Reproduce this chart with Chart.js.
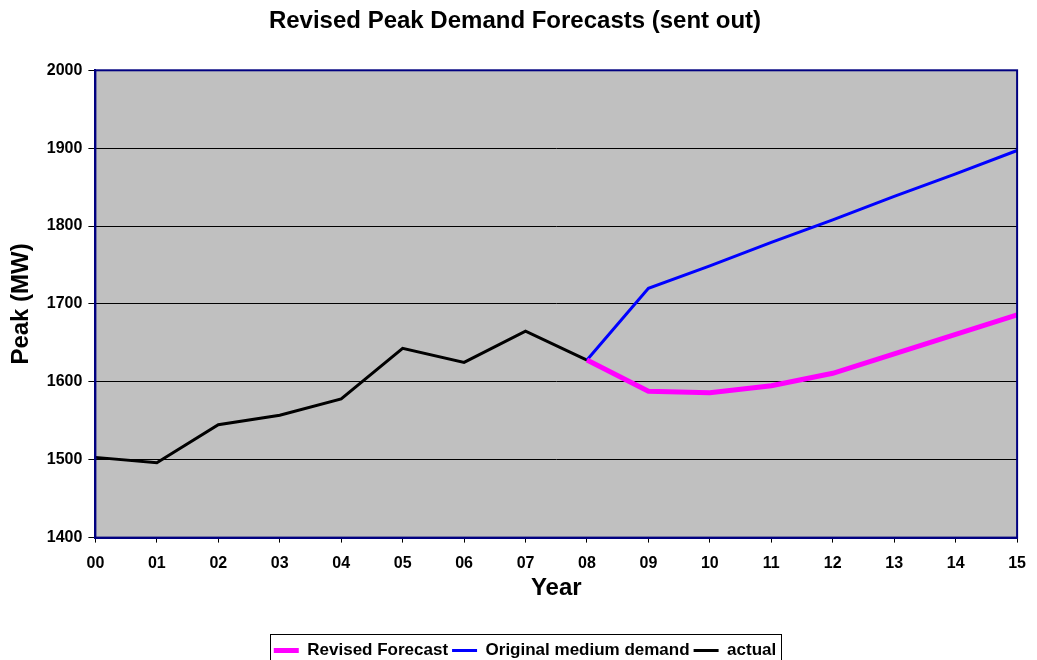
<!DOCTYPE html>
<html>
<head>
<meta charset="utf-8">
<script src="https://cdn.jsdelivr.net/npm/chart.js@4.4.1/dist/chart.umd.min.js"></script>
<style>
  body { margin: 0; background: #fff; }
  #chart { display: block; }
</style>
</head>
<body>
<canvas id="chart" width="1037" height="660"></canvas>
<script>
// Chart data
const years = ['00', '01', '02', '03', '04', '05', '06', '07', '08', '09', '10', '11', '12', '13', '14', '15'];
const revisedForecast = [null, null, null, null, null, null, null, null, 1628, 1588, 1586, 1595, 1611, 1636, 1661, 1686];
const originalMedium = [null, null, null, null, null, null, null, null, 1628, 1720, 1749, 1779, 1808, 1838, 1867, 1897];
const actual = [1503, 1496, 1545, 1557, 1578, 1643, 1625, 1665, 1628, null, null, null, null, null, null, null];
const yTicks = [1400, 1500, 1600, 1700, 1800, 1900, 2000];

const FONT = 'Arial, "Liberation Sans", sans-serif';
const LEGEND_SHIFT = 10; // legend sits a little right of page centre

// Grey plot area, navy frame and a boxed legend
const plotDecor = {
    id: 'plotDecor',
    afterLayout(chart) {
        // hit boxes get placed later (afterUpdate), from these edges
        const lg = chart.legend;
        if (lg) {
            lg.left += LEGEND_SHIFT;
            lg.right += LEGEND_SHIFT;
        }
    },
    beforeDraw(chart) {
        const { ctx, chartArea: a } = chart;
        ctx.save();
        ctx.fillStyle = '#c0c0c0';
        ctx.fillRect(a.left, a.top, a.right - a.left, a.bottom - a.top);
        ctx.restore();
    },
    afterDraw(chart) {
        const { ctx, chartArea: a, legend } = chart;
        ctx.save();
        ctx.strokeStyle = '#000080';
        ctx.lineWidth = 2;
        ctx.strokeRect(a.left, a.top, a.right - a.left, a.bottom - a.top);
        // legend border
        if (legend && legend.legendHitBoxes.length) {
            const boxes = legend.legendHitBoxes;
            const x0 = boxes[0].left - 4;
            const last = boxes[boxes.length - 1];
            const x1 = last.left + last.width + 5;
            const y0 = boxes[0].top - 8;
            const y1 = boxes[0].top + boxes[0].height + 8;
            ctx.strokeStyle = '#000';
            ctx.lineWidth = 1;
            ctx.strokeRect(Math.round(x0) + 0.5, Math.round(y0) + 0.5, Math.round(x1 - x0), Math.round(y1 - y0));
        }
        ctx.restore();
    }
};

const ctx = document.getElementById('chart').getContext('2d');
new Chart(ctx, {
    type: 'line',
    data: {
        labels: years,
        datasets: [
            {
                label: 'Revised Forecast',
                data: revisedForecast,
                borderColor: '#ff00ff',
                backgroundColor: '#ff00ff',
                borderWidth: 5,
                pointRadius: 0,
                tension: 0,
                order: 1
            },
            {
                label: 'Original medium demand',
                data: originalMedium,
                borderColor: '#0000ff',
                backgroundColor: '#0000ff',
                borderWidth: 3,
                pointRadius: 0,
                tension: 0,
                order: 2
            },
            {
                label: 'actual',
                data: actual,
                borderColor: '#000000',
                backgroundColor: '#000000',
                borderWidth: 3,
                pointRadius: 0,
                tension: 0,
                order: 3
            }
        ]
    },
    options: {
        responsive: false,
        animation: false,
        layout: {
            padding: { left: 7, right: 14, top: 6, bottom: -9 }
        },
        plugins: {
            title: {
                display: true,
                text: 'Revised Peak Demand Forecasts (sent out)',
                color: '#000',
                font: { family: FONT, size: 24, weight: 'bold' },
                padding: { top: 1, bottom: 34.5 }
            },
            legend: {
                display: true,
                position: 'bottom',
                labels: {
                    color: '#000',
                    font: { family: FONT, size: 17, weight: 'bold' },
                    usePointStyle: true,
                    pointStyle: 'line',
                    pointStyleWidth: 25,
                    padding: 4
                }
            },
            tooltip: { enabled: false }
        },
        scales: {
            x: {
                offset: false,
                grid: {
                    drawOnChartArea: false,
                    drawTicks: true,
                    tickLength: 5,
                    color: '#000'
                },
                border: { display: true, color: '#000080', width: 2 },
                ticks: {
                    color: '#000',
                    font: { family: FONT, size: 16, weight: 'bold' },
                    maxRotation: 0,
                    autoSkip: false,
                    padding: 11
                },
                title: {
                    display: true,
                    text: 'Year',
                    color: '#000',
                    font: { family: FONT, size: 24, weight: 'bold' },
                    padding: { top: -10, bottom: 35.4 }
                }
            },
            y: {
                min: yTicks[0],
                max: yTicks[yTicks.length - 1],
                afterBuildTicks(axis) {
                    axis.ticks = yTicks.map(v => ({ value: v }));
                },
                grid: {
                    color: '#000',
                    lineWidth: 1,
                    drawTicks: true,
                    tickLength: 7
                },
                border: { display: true, color: '#000080', width: 2 },
                ticks: {
                    color: '#000',
                    font: { family: FONT, size: 16, weight: 'bold' },
                    padding: 6,
                    callback: v => String(v)
                },
                title: {
                    display: true,
                    text: 'Peak (MW)',
                    color: '#000',
                    font: { family: FONT, size: 24, weight: 'bold' },
                    padding: { top: 0, bottom: 5 }
                }
            }
        }
    },
    plugins: [plotDecor]
});
</script>
</body>
</html>
